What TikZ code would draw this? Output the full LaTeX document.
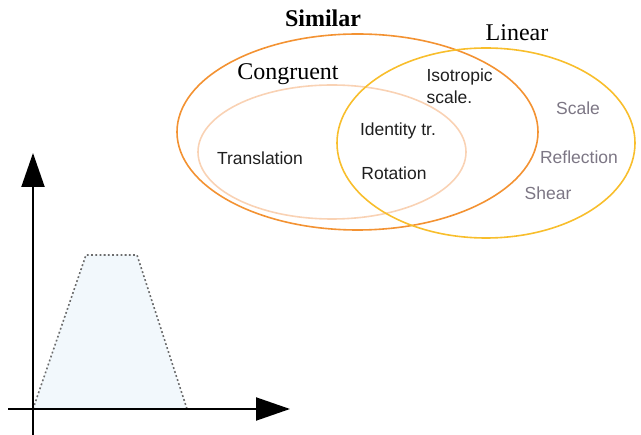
\documentclass[tikz,border=0pt]{standalone}
\usepackage{fontspec}
\setmainfont{Liberation Serif}
\setsansfont{Liberation Sans}
\usetikzlibrary{positioning,arrows.meta,shapes.geometric}
\definecolor{simorange}{HTML}{F39232}
\definecolor{conpeach}{HTML}{F9D2B4}
\definecolor{lingold}{HTML}{F8BE2C}
\definecolor{lingray}{HTML}{7C7684}
\definecolor{trapfill}{HTML}{F2F8FC}

\begin{document}
\begin{tikzpicture}[
    x=1pt, y=-1pt,
    set/.style={ellipse, draw, line width=1.6pt, inner sep=0pt},
    title/.style={font=\fontsize{24}{26}\selectfont},
    member/.style={font=\sffamily\fontsize{17.5}{21}\selectfont, text=black!88, align=left},
    other/.style={member, text=lingray},
    axis/.style={line width=2pt, -{Triangle[length=34pt, width=23pt]}}
]
\useasboundingbox (0,0) rectangle (641,435);

% Sets
\node[set, draw=simorange, minimum width=361pt, minimum height=196pt] (simil) at (357.5,132) {};
\node[set, draw=conpeach, minimum width=268pt, minimum height=134pt] (congr) at (332,152) {};
\node[set, draw=lingold, minimum width=298pt, minimum height=190pt] (linear) at (486,143) {};

% Set names
\node[title, font=\bfseries\fontsize{24}{26}\selectfont] (similt) at (323,18) {Similar};
\node[title] (lineart) at (517,33) {Linear};
\node[title] (congrt) at (288,74) {Congruent};

% Transformations
\node[member] (transl) at (260,158) {Translation};
\node[member] (ident) at (398,131) {Identity tr.};
\node[member] (rot) at (394,173) {Rotation};
\node[member, anchor=west, font=\sffamily\fontsize{17.5}{22}\selectfont] (iso) at (423,86) {Isotropic\\scale.};
\node[other] (scale) at (578,108) {Scale};
\node[other] (refl) at (579,157) {Reflection};
\node[other] (shear) at (548,193) {Shear};

% Axes
\coordinate (O) at (33,409);
\coordinate (ybot) at (33,435);
\coordinate (ytop) at (33,153);
\coordinate (xleft) at (8,409);
\coordinate (xright) at (290,409);
\draw[trapfill, fill=trapfill] (O) -- (86,255) -- (137,255) -- (187,409) -- cycle;
\draw[gray!85!black, line width=1.6pt, dash pattern=on 1.8pt off 2.4pt] (O) -- (86,255) -- (137,255) -- (187,409) -- cycle;
\draw[axis] (ybot) -- (ytop);
\draw[axis] (xleft) -- (xright);

\end{tikzpicture}
\end{document}
